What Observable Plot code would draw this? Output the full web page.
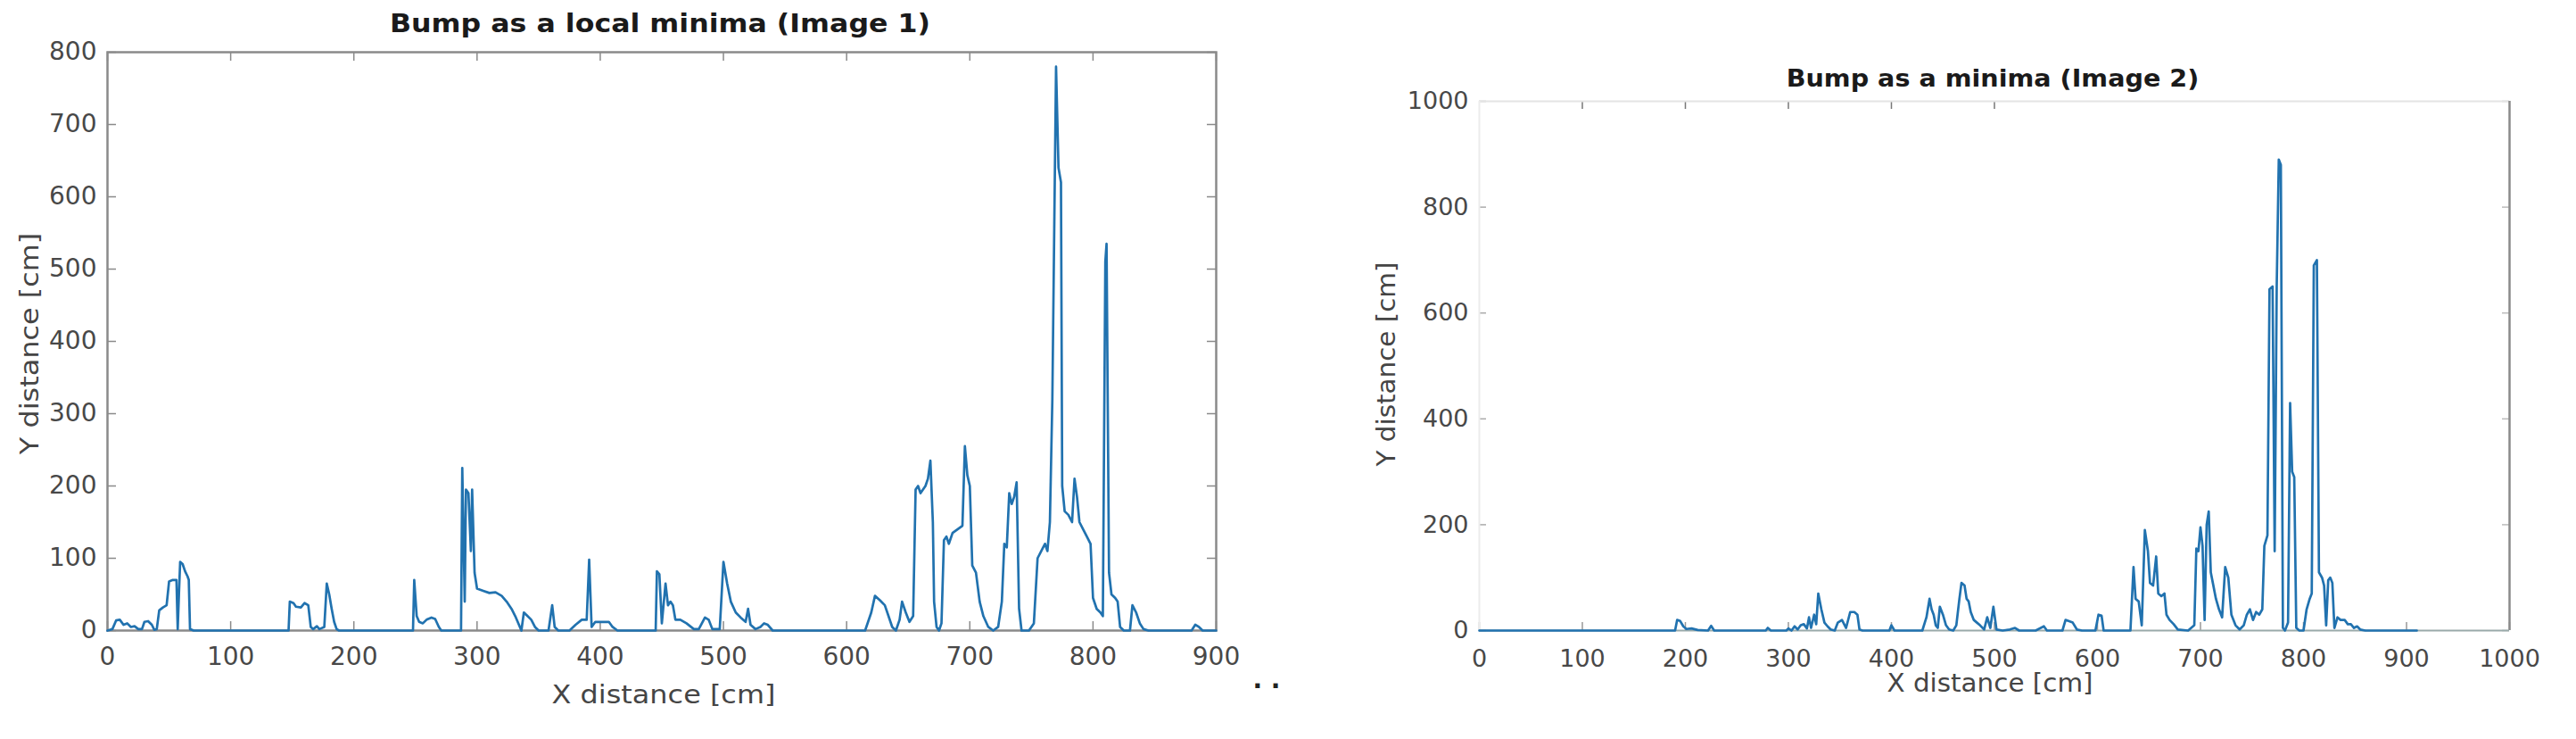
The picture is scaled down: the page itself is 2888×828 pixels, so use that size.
<!DOCTYPE html>
<html><head><meta charset="utf-8">
<script src="https://cdn.jsdelivr.net/npm/d3@7"></script>
<script src="https://cdn.jsdelivr.net/npm/@observablehq/plot@0.6"></script>
<style>
html,body{margin:0;padding:0;background:#fff;}
#page{position:relative;width:2888px;height:828px;overflow:hidden;background:#fff;font-family:"DejaVu Sans",sans-serif;}
.lab{position:absolute;white-space:nowrap;line-height:1;transform-origin:center center;}
</style></head>
<body><div id="page"></div>
<script>
// ---------- data: Image 1 (left) ----------
const leftX = [0,4,7,10,13,16,19,22,25,28,30,33,36,38,40,42,45,48,50,53,56,57,58,59,61,63,65,66,67,70,
  147,148,151,153,157,160,163,165,167,170,172,176,178,180,182,184,186,188,
  248,249,251,253,256,259,263,266,269,271,
  287,288,290,291,293,295,296,298,300,305,310,315,320,324,328,331,334,336,338,341,344,347,350,
  358,361,363,366,375,380,385,389,391,393,396,402,407,410,414,
  445,446,448,450,453,455,457,459,461,465,470,476,480,485,488,491,497,500,503,506,510,514,518,520,522,526,530,533,536,540,
  615,620,623,627,631,634,637,640,643,645,648,651,654,656,658,660,662,664,666,668,670,671,673,675,677,679,681,683,686,690,694,696,698,700,702,705,708,711,715,719,
  723,726,728,730,732,734,736,738,740,742,748,752,755,758,761,763,765,767,770,772,774,775,777,780,783,785,787,789,792,795,798,
  800,803,806,808,810,811,813,815,818,820,822,825,830,832,835,838,841,845,880,883,886,889,900];
const leftY = [0,2,14,15,8,10,5,6,2,2,12,13,8,1,2,28,32,35,68,70,70,2,50,95,92,82,75,70,2,0,
  0,40,38,33,32,38,35,5,2,6,2,5,65,50,30,12,2,0,
  0,70,20,12,10,15,18,16,5,0,
  0,225,40,195,190,110,195,80,58,55,52,53,48,40,30,20,8,0,25,20,15,5,0,
  0,35,5,0,0,8,15,15,98,5,12,12,12,5,0,
  0,82,78,10,65,35,40,35,15,15,10,2,2,18,15,2,2,95,65,40,25,18,12,30,8,2,5,10,8,0,
  0,25,48,42,35,20,5,0,15,40,25,12,20,195,200,190,195,200,210,235,150,40,5,0,10,125,130,120,135,140,145,255,215,200,90,80,40,20,5,0,
  5,40,120,115,190,175,185,205,30,0,0,10,100,110,120,110,150,320,780,640,620,200,165,160,150,210,185,150,140,130,120,
  45,30,25,20,510,535,80,50,45,40,5,0,0,35,25,10,2,0,0,8,5,0,0];

// ---------- data: Image 2 (right) ----------
const rightX = [0,190,192,195,198,201,206,212,222,225,228,278,280,283,298,300,303,306,309,312,315,318,320,322,325,327,329,332,335,338,341,345,
  348,352,356,360,364,367,369,372,398,400,403,430,434,437,439,441,443,445,447,450,453,456,460,463,466,468,471,473,475,477,480,483,486,490,493,496,499,502,508,
  515,520,524,540,548,551,566,569,572,576,580,585,598,601,604,606,632,635,637,640,643,646,649,651,654,657,659,662,665,667,670,674,678,688,
  694,696,698,700,702,704,706,708,710,712,715,718,721,724,727,730,734,738,742,745,748,751,754,757,760,762,765,767,770,772,774,776,778,780,782,
  785,787,789,791,793,796,800,803,806,808,810,813,815,818,820,822,824,826,828,830,833,836,840,843,846,849,852,855,860,900,910];
const rightY = [0,0,20,18,8,3,4,1,0,9,0,0,5,0,0,4,0,8,2,10,12,4,25,5,30,12,70,40,15,8,2,0,
  15,20,5,35,35,30,2,0,0,10,0,0,25,60,40,30,10,5,45,30,10,2,0,10,60,90,85,60,55,35,20,15,10,2,25,5,45,2,0,
  2,5,0,0,8,0,0,20,18,15,2,0,0,30,28,0,0,120,60,55,10,190,150,90,85,140,70,65,70,30,20,12,2,0,
  10,155,150,195,160,20,200,225,110,90,60,40,25,120,100,30,10,2,10,30,40,20,35,30,40,160,180,645,650,150,650,890,880,5,0,
  15,430,300,290,5,0,0,40,60,70,690,700,110,100,85,10,95,100,90,5,25,20,20,12,12,5,8,2,0,0,0];

// ---------- ticks ----------
const leftXTicks = [0,100,200,300,400,500,600,700,800,900];
const leftYTicks = [0,100,200,300,400,500,600,700,800];
const rightXTicks = [0,100,200,300,400,500,600,700,800,900,1000];
const rightYTicks = [0,200,400,600,800,1000];

const leftData = leftX.map((x, i) => ({x, y: leftY[i]}));
const rightData = rightX.map((x, i) => ({x, y: rightY[i]}));

const page = document.getElementById("page");
const LINE = "#2172af";
const AXIS = "#8a8a8a";

function place(svg, left, top) {
  svg.style.position = "absolute";
  svg.style.left = left + "px";
  svg.style.top = top + "px";
  page.appendChild(svg);
}
function label(text, cx, cy, size, opts = {}) {
  const d = document.createElement("div");
  d.className = "lab";
  d.textContent = text;
  d.style.left = cx + "px";
  d.style.top = cy + "px";
  d.style.fontSize = size + "px";
  d.style.fontWeight = opts.weight || "normal";
  d.style.color = opts.color || "#444";
  const rot = opts.rotate ? ` rotate(${opts.rotate}deg)` : "";
  d.style.transform = `translate(-50%,-50%)${rot} scaleX(${opts.sx || 1})`;
  page.appendChild(d);
}

// ---------- left chart ----------
{
  const W = 1400, H = 745, mL = 120, mR = 37, mT = 58, mB = 39;
  const FW = W - mL - mR, FH = H - mT - mB;
  const svg = Plot.plot({
    width: W, height: H,
    marginLeft: mL, marginRight: mR, marginTop: mT, marginBottom: mB,
    style: {fontFamily: "DejaVu Sans", fontSize: "28px", color: "#484848", background: "transparent", overflow: "visible"},
    x: {domain: [0, 900], ticks: leftXTicks, tickSize: 0, tickPadding: 19, tickFormat: "d", label: null},
    y: {domain: [0, 800], ticks: leftYTicks, tickSize: 0, tickPadding: 12, tickFormat: "d", label: null},
    marks: [
      Plot.tickX(leftXTicks, {stroke: AXIS, strokeWidth: 1.5, insetTop: FH - 10}),
      Plot.tickX(leftXTicks, {stroke: AXIS, strokeWidth: 1.5, insetBottom: FH - 10}),
      Plot.tickY(leftYTicks, {stroke: AXIS, strokeWidth: 1.5, insetRight: FW - 10}),
      Plot.tickY(leftYTicks, {stroke: AXIS, strokeWidth: 1.5, insetLeft: FW - 10}),
      Plot.frame({stroke: AXIS, strokeWidth: 2.5}),
      Plot.line(leftData, {x: "x", y: "y", stroke: LINE, strokeWidth: 2.7})
    ]
  });
  place(svg, 0, 0);
}

// ---------- right chart ----------
{
  const W = 1388, H = 745, mL = 158, mR = 75, mT = 113, mB = 39;
  const FW = W - mL - mR, FH = H - mT - mB;
  const svg = Plot.plot({
    width: W, height: H,
    marginLeft: mL, marginRight: mR, marginTop: mT, marginBottom: mB,
    style: {fontFamily: "DejaVu Sans", fontSize: "27px", color: "#484848", background: "transparent", overflow: "visible"},
    x: {domain: [0, 1000], ticks: rightXTicks, tickSize: 0, tickPadding: 21, tickFormat: "d", label: null},
    y: {domain: [0, 1000], ticks: rightYTicks, tickSize: 0, tickPadding: 12, tickFormat: "d", label: null},
    marks: [
      Plot.tickX(rightXTicks, {stroke: "#999", strokeWidth: 1.5, insetTop: FH - 9}),
      Plot.tickX(rightXTicks.slice(1, 6), {stroke: "#777", strokeWidth: 1.5, insetBottom: FH - 9}),
      Plot.tickY(rightYTicks, {stroke: "#aaa", strokeWidth: 1.5, insetRight: FW - 8}),
      Plot.tickY(rightYTicks, {stroke: "#bbb", strokeWidth: 1.5, insetLeft: FW - 8}),
      Plot.ruleY([rightYTicks[rightYTicks.length - 1]], {stroke: "#e4e4e4", strokeWidth: 2}),
      Plot.ruleX([rightXTicks[0]], {stroke: "#ececec", strokeWidth: 2}),
      Plot.ruleX([rightXTicks[rightXTicks.length - 1]], {stroke: "#8a8a8a", strokeWidth: 2.5}),
      Plot.ruleY([rightYTicks[0]], {stroke: "#9aa", strokeWidth: 2}),
      Plot.line(rightData, {x: "x", y: "y", stroke: LINE, strokeWidth: 2.7})
    ]
  });
  place(svg, 1500, 0);
}

// ---------- titles & axis labels ----------
label("Bump as a local minima (Image 1)", 740, 27, 28, {weight: "bold", color: "#1a1a1a", sx: 1.13});
label("X distance [cm]", 744, 778, 29, {color: "#454545", sx: 1.1});
label("Y distance [cm]", 33, 385, 29, {color: "#454545", sx: 1.1, rotate: -90});

label("Bump as a minima (Image 2)", 2234, 87, 27, {weight: "bold", color: "#1a1a1a", sx: 1.06});
label("X distance [cm]", 2231, 766, 28, {color: "#454545", sx: 1.05});
label("Y distance [cm]", 1555, 408, 28, {color: "#454545", sx: 1.05, rotate: -90});

label(". .", 1420, 762, 28, {weight: "bold", color: "#222"});
</script>
</body></html>
